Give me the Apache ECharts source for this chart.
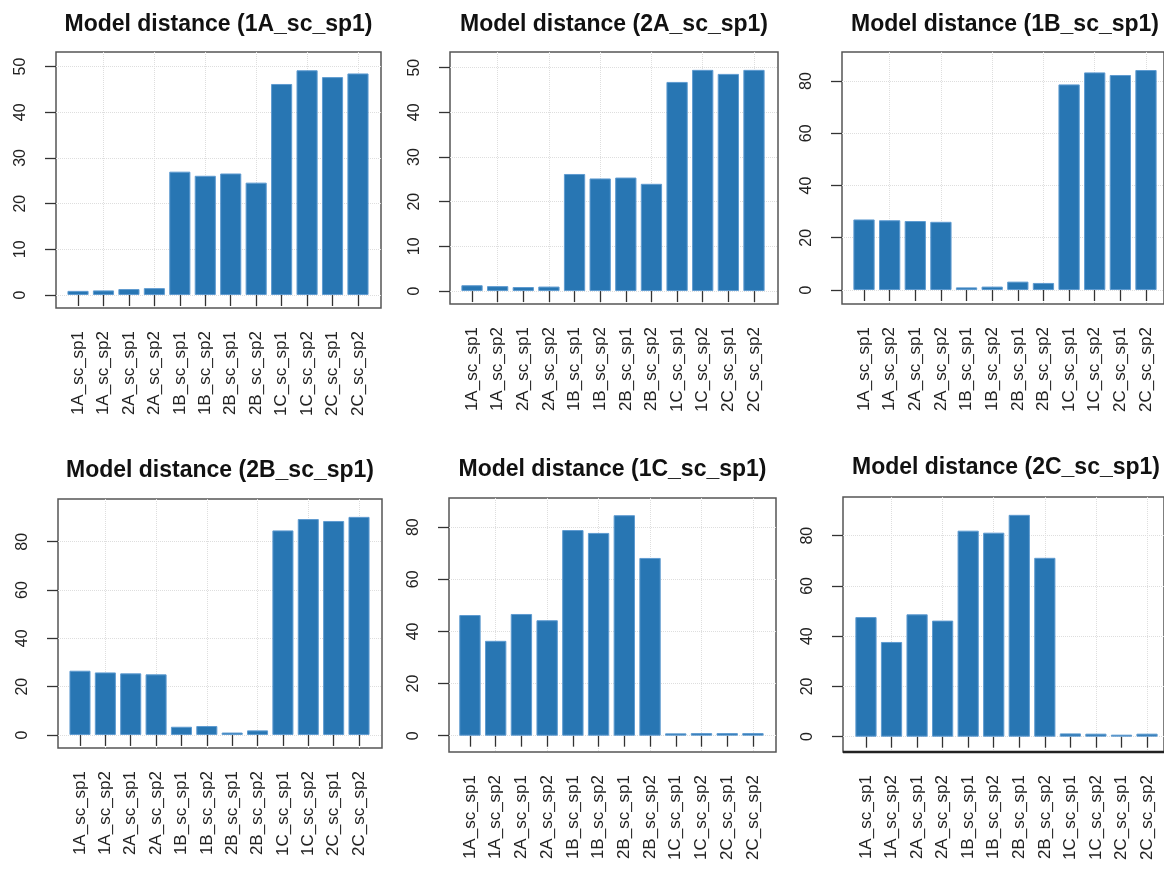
<!DOCTYPE html>
<html><head><meta charset="utf-8">
<script src="https://cdn.jsdelivr.net/npm/echarts@6/dist/echarts.min.js"></script>
<style>html,body{margin:0;padding:0;background:#fff}#c{width:1164px;height:870px}</style>
</head><body><div id="c"></div>
<script>
// ---- data ----
const categories = ['1A_sc_sp1','1A_sc_sp2','2A_sc_sp1','2A_sc_sp2','1B_sc_sp1','1B_sc_sp2','2B_sc_sp1','2B_sc_sp2','1C_sc_sp1','1C_sc_sp2','2C_sc_sp1','2C_sc_sp2'];
const titles = ['Model distance (1A_sc_sp1)','Model distance (2A_sc_sp1)','Model distance (1B_sc_sp1)','Model distance (2B_sc_sp1)','Model distance (1C_sc_sp1)','Model distance (2C_sc_sp1)'];
const dist1A = [0.9, 1.0, 1.3, 1.5, 27.0, 26.1, 26.6, 24.6, 46.2, 49.2, 47.7, 48.5];
const dist2A = [1.3, 1.1, 0.9, 1.0, 26.2, 25.2, 25.4, 24.0, 46.8, 49.5, 48.6, 49.5];
const dist1B = [27.0, 26.7, 26.4, 26.1, 1.0, 1.3, 3.2, 2.7, 78.7, 83.3, 82.3, 84.2];
const dist2B = [26.6, 25.9, 25.5, 25.1, 3.4, 3.7, 1.0, 1.9, 84.7, 89.4, 88.6, 90.3];
const dist1C = [46.3, 36.4, 46.7, 44.3, 78.9, 77.8, 84.6, 68.2, 0.9, 1.0, 1.0, 1.0];
const dist2C = [47.6, 37.7, 48.7, 46.2, 82.0, 81.2, 88.3, 71.2, 1.3, 1.2, 0.8, 1.2];
const yTicks50 = [0, 10, 20, 30, 40, 50];
const yTicks80 = [0, 20, 40, 60, 80];

// ---- layout (pixels) ----
const panels = [
  {values: dist1A, ticks: yTicks50, box: [56, 52, 325, 256], bars: [65.3, 305.4], y: [-2.85, 53.2], ty: 25},
  {values: dist2A, ticks: yTicks50, box: [450, 52, 328, 252], bars: [459.2, 307.6], y: [-2.9, 53.5], ty: 25},
  {values: dist1B, ticks: yTicks80, box: [842, 52, 326, 252], bars: [851.2, 307.6], y: [-5.36, 91.1], ty: 25},
  {values: dist2B, ticks: yTicks80, box: [58, 499, 324, 249], bars: [67.3, 304.4], y: [-5.4, 97.7], ty: 471},
  {values: dist1C, ticks: yTicks80, box: [449, 498, 327, 254], bars: [457.1, 308.7], y: [-6.26, 91.2], ty: 470},
  {values: dist2C, ticks: yTicks80, box: [843, 497, 326, 255], bars: [853.2, 306.6], y: [-6.1, 95.4], ty: 468}
];

const FONT = '"Liberation Sans", Arial, sans-serif';
const BAR = '#2876b3';
const GRIDLINE = {type: 'dotted', color: '#dedede', width: 1};
const grid = [], xAxis = [], yAxis = [], series = [], graphic = [];

panels.forEach((p, i) => {
  const [l, t, w, h] = p.box;
  // frame grid (box + y axis + horizontal grid lines)
  grid.push({left: l, top: t, width: w, height: h, show: true, borderColor: '#555', borderWidth: 1.5, backgroundColor: '#fff'});
  // bars grid
  grid.push({left: p.bars[0], top: t, width: p.bars[1], height: h});
  xAxis.push({gridIndex: 2 * i, type: 'value', min: 0, max: 1, show: false});
  xAxis.push({
    gridIndex: 2 * i + 1, type: 'category', data: categories,
    axisLine: {show: false},
    axisTick: {show: true, alignWithLabel: true, length: 11, lineStyle: {color: '#333', width: 1.3}},
    axisLabel: {interval: 0, rotate: 90, margin: 23, fontSize: 17, color: '#222', fontFamily: FONT},
    splitLine: {show: true, alignWithLabel: true, interval: (idx) => idx % 2 === 1, lineStyle: GRIDLINE}
  });
  yAxis.push({
    gridIndex: 2 * i, type: 'value', min: p.y[0], max: p.y[1],
    axisLine: {show: false},
    axisTick: {show: true, length: 11, customValues: p.ticks, lineStyle: {color: '#333', width: 1.3}},
    axisLabel: {customValues: p.ticks, rotate: 90, margin: 27, fontSize: 16, color: '#222', fontFamily: FONT},
    splitLine: {show: true, lineStyle: GRIDLINE}
  });
  yAxis.push({gridIndex: 2 * i + 1, type: 'value', min: p.y[0], max: p.y[1], show: false});
  series.push({
    type: 'bar', xAxisIndex: 2 * i + 1, yAxisIndex: 2 * i + 1, data: p.values, z: 3,
    barWidth: '83%', silent: true,
    itemStyle: {color: BAR, borderColor: '#5f9bd0', borderWidth: 1}
  });
  graphic.push({
    type: 'text', x: l + w / 2, y: p.ty,
    style: {text: titles[i], font: 'bold 23px ' + FONT, fill: '#111', align: 'center', verticalAlign: 'middle'}
  });
});
graphic.push({type: 'line', shape: {x1: 843, y1: 752, x2: 1164, y2: 752}, style: {stroke: '#222', lineWidth: 2.5}, z: 100});

const chart = echarts.init(document.getElementById('c'), null, {renderer: 'canvas'});
chart.setOption({animation: false, backgroundColor: '#fff', grid, xAxis, yAxis, series, graphic});
</script></body></html>
